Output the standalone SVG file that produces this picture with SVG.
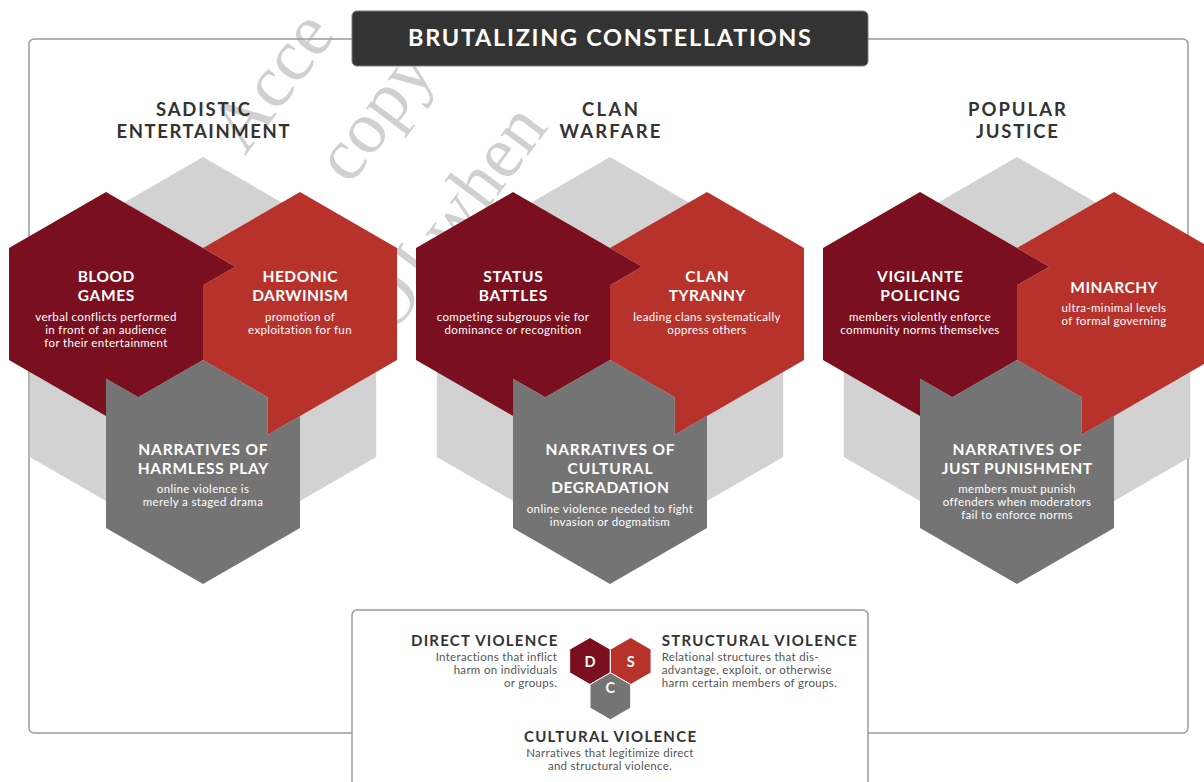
<svg xmlns="http://www.w3.org/2000/svg" width="1204" height="782" viewBox="0 0 1204 782">
  <style>
    .wm { font-family: "Liberation Serif", serif; font-size: 74px; fill: #d0d0d0; }
    .frame { fill: none; stroke: #9b9b9b; stroke-width: 1.5; }
    .title { font-family: Lato, "Liberation Sans", sans-serif; font-weight: 700; font-size: 23.5px; fill: #ffffff; text-anchor: middle; }
    .head { font-family: Lato, "Liberation Sans", sans-serif; font-weight: 700; font-size: 18.5px; fill: #333333; text-anchor: middle; }
    .bg { fill: #d2d2d2; }
    .dk { fill: #7a101f; }
    .rd { fill: #b8322c; }
    .gy { fill: #747474; }
    .lbl { font-family: Lato, "Liberation Sans", sans-serif; font-weight: 700; font-size: 15.5px; fill: #ffffff; text-anchor: middle; }
    .dsc { font-family: Lato, "Liberation Sans", sans-serif; font-size: 11.5px; letter-spacing: 0.35px; fill: #ffffff; text-anchor: middle; }
    .lh { font-family: Lato, "Liberation Sans", sans-serif; font-weight: 700; font-size: 15px; fill: #333333; }
    .ld { font-family: Lato, "Liberation Sans", sans-serif; font-size: 11.5px; letter-spacing: 0.3px; fill: #555555; }
    .mini { stroke: #ffffff; stroke-width: 1; }
    .ml { font-family: Lato, "Liberation Sans", sans-serif; font-weight: 700; font-size: 14.5px; fill: #ffffff; text-anchor: middle; }
  </style>

  <rect width="1204" height="782" fill="#ffffff"/>

  <!-- faint diagonal watermark behind everything -->
  <g id="watermark">
    <text class="wm" x="245" y="156" transform="rotate(-53 245 156)">Acce</text>
    <text class="wm" x="350" y="186" transform="rotate(-53 350 186)">copy</text>
    <text class="wm" x="392" y="336" transform="rotate(-53 392 336)">OJ when</text>
  </g>

  <!-- outer frame -->
  <rect class="frame" x="29" y="39" width="1159" height="694" rx="5"/>

  <!-- title banner -->
  <g id="title">
    <rect x="352" y="11" width="516" height="55" rx="5" fill="#333333" stroke="#7a7a7a" stroke-width="1"/>
    <text class="title" x="609.5" y="46" textLength="403">BRUTALIZING CONSTELLATIONS</text>
  </g>

  <!-- constellation headings -->
  <g id="headings">
    <text class="head" x="203" y="116" textLength="94">SADISTIC</text>
    <text class="head" x="203" y="138" textLength="173">ENTERTAINMENT</text>
    <text class="head" x="610" y="116" textLength="56">CLAN</text>
    <text class="head" x="610" y="138" textLength="101">WARFARE</text>
    <text class="head" x="1017" y="116" textLength="98">POPULAR</text>
    <text class="head" x="1017" y="138" textLength="82">JUSTICE</text>
  </g>

  <!-- Sadistic entertainment cluster -->
  <g id="sadistic-entertainment">
    <polygon class="bg" points="203,157 376.2,257 376.2,457 203,557 29.8,457 29.8,257"/>
    <g id="blood-games">
      <polygon class="dk" points="106,192 235.3,266.7 203,285.3 203,360 138.3,397.3 106,378.7 106,416 9,360 9,248"/>
      <text class="lbl" x="106" y="282" textLength="56.7">BLOOD</text>
      <text class="lbl" x="106" y="301" textLength="56.7">GAMES</text>
      <text class="dsc" x="106" y="321">verbal conflicts performed</text>
      <text class="dsc" x="106" y="334">in front of an audience</text>
      <text class="dsc" x="106" y="347">for their entertainment</text>
    </g>
    <g id="hedonic-darwinism">
      <polygon class="rd" points="300,192 397,248 397,360 300,416 267.7,434.7 267.7,397.3 203,360 203,285.3 235.3,266.7 203,248"/>
      <text class="lbl" x="300" y="282" textLength="75">HEDONIC</text>
      <text class="lbl" x="300" y="301" textLength="95.7">DARWINISM</text>
      <text class="dsc" x="300" y="321">promotion of</text>
      <text class="dsc" x="300" y="334">exploitation for fun</text>
    </g>
    <g id="harmless-play">
      <polygon class="gy" points="203,360 267.7,397.3 267.7,434.7 300,416 300,528 203,584 106,528 106,378.7 138.3,397.3"/>
      <text class="lbl" x="203" y="455" textLength="129.3">NARRATIVES OF</text>
      <text class="lbl" x="203" y="474" textLength="130.7">HARMLESS PLAY</text>
      <text class="dsc" x="203" y="493">online violence is</text>
      <text class="dsc" x="203" y="506">merely a staged drama</text>
    </g>
  </g>

  <!-- Clan warfare cluster -->
  <g id="clan-warfare" transform="translate(407,0)">
    <polygon class="bg" points="203,157 376.2,257 376.2,457 203,557 29.8,457 29.8,257"/>
    <g id="status-battles">
      <polygon class="dk" points="106,192 235.3,266.7 203,285.3 203,360 138.3,397.3 106,378.7 106,416 9,360 9,248"/>
      <text class="lbl" x="106" y="282" textLength="59.3">STATUS</text>
      <text class="lbl" x="106" y="301" textLength="68.3">BATTLES</text>
      <text class="dsc" x="106" y="321">competing subgroups vie for</text>
      <text class="dsc" x="106" y="334">dominance or recognition</text>
    </g>
    <g id="clan-tyranny">
      <polygon class="rd" points="300,192 397,248 397,360 300,416 267.7,434.7 267.7,397.3 203,360 203,285.3 235.3,266.7 203,248"/>
      <text class="lbl" x="300" y="282" textLength="43.3">CLAN</text>
      <text class="lbl" x="300" y="301" textLength="76.7">TYRANNY</text>
      <text class="dsc" x="300" y="321">leading clans systematically</text>
      <text class="dsc" x="300" y="334">oppress others</text>
    </g>
    <g id="cultural-degradation">
      <polygon class="gy" points="203,360 267.7,397.3 267.7,434.7 300,416 300,528 203,584 106,528 106,378.7 138.3,397.3"/>
      <text class="lbl" x="203" y="455" textLength="129">NARRATIVES OF</text>
      <text class="lbl" x="203" y="474" textLength="85">CULTURAL</text>
      <text class="lbl" x="203" y="493" textLength="117.7">DEGRADATION</text>
      <text class="dsc" x="203" y="513">online violence needed to fight</text>
      <text class="dsc" x="203" y="526">invasion or dogmatism</text>
    </g>
  </g>

  <!-- Popular justice cluster -->
  <g id="popular-justice" transform="translate(814,0)">
    <polygon class="bg" points="203,157 376.2,257 376.2,457 203,557 29.8,457 29.8,257"/>
    <g id="vigilante-policing">
      <polygon class="dk" points="106,192 235.3,266.7 203,285.3 203,360 138.3,397.3 106,378.7 106,416 9,360 9,248"/>
      <text class="lbl" x="106" y="282" textLength="86">VIGILANTE</text>
      <text class="lbl" x="106" y="301" textLength="79.3">POLICING</text>
      <text class="dsc" x="106" y="321">members violently enforce</text>
      <text class="dsc" x="106" y="334">community norms themselves</text>
    </g>
    <g id="minarchy">
      <polygon class="rd" points="300,192 397,248 397,360 300,416 267.7,434.7 267.7,397.3 203,360 203,285.3 235.3,266.7 203,248"/>
      <text class="lbl" x="300" y="293" textLength="87.3">MINARCHY</text>
      <text class="dsc" x="300" y="312">ultra-minimal levels</text>
      <text class="dsc" x="300" y="325">of formal governing</text>
    </g>
    <g id="just-punishment">
      <polygon class="gy" points="203,360 267.7,397.3 267.7,434.7 300,416 300,528 203,584 106,528 106,378.7 138.3,397.3"/>
      <text class="lbl" x="203" y="455" textLength="129">NARRATIVES OF</text>
      <text class="lbl" x="203" y="474" textLength="150.3">JUST PUNISHMENT</text>
      <text class="dsc" x="203" y="493">members must punish</text>
      <text class="dsc" x="203" y="506">offenders when moderators</text>
      <text class="dsc" x="203" y="519">fail to enforce norms</text>
    </g>
  </g>

  <!-- legend of violence types -->
  <g id="legend">
    <rect x="352" y="610" width="516" height="200" rx="5" fill="#ffffff" stroke="#9b9b9b" stroke-width="1.5"/>
    <g id="legend-direct">
      <polygon class="dk mini" points="590,637.5 610.35,649.25 610.35,672.75 590,684.5 569.65,672.75 569.65,649.25"/>
      <text class="ml" x="590" y="666.5">D</text>
      <text class="lh" x="557.3" y="645.5" text-anchor="end" textLength="146.3">DIRECT VIOLENCE</text>
      <text class="ld" x="557.3" y="660.5" text-anchor="end">Interactions that inflict</text>
      <text class="ld" x="557.3" y="674" text-anchor="end">harm on individuals</text>
      <text class="ld" x="557.3" y="687" text-anchor="end">or groups.</text>
    </g>
    <g id="legend-structural">
      <polygon class="rd mini" points="630.7,637.5 651.05,649.25 651.05,672.75 630.7,684.5 610.35,672.75 610.35,649.25"/>
      <text class="ml" x="630.7" y="666.5">S</text>
      <text class="lh" x="661.7" y="645.5" textLength="195">STRUCTURAL VIOLENCE</text>
      <text class="ld" x="661.7" y="660.5">Relational structures that dis-</text>
      <text class="ld" x="661.7" y="674">advantage, exploit, or otherwise</text>
      <text class="ld" x="661.7" y="687">harm certain members of groups.</text>
    </g>
    <g id="legend-cultural">
      <polygon class="gy mini" points="610.35,672.75 630.7,684.5 630.7,708 610.35,719.75 590,708 590,684.5"/>
      <text class="ml" x="610.35" y="693">C</text>
      <text class="lh" x="610" y="741.5" text-anchor="middle" textLength="172">CULTURAL VIOLENCE</text>
      <text class="ld" x="610" y="757" text-anchor="middle">Narratives that legitimize direct</text>
      <text class="ld" x="610" y="770" text-anchor="middle">and structural violence.</text>
    </g>
  </g>
</svg>
